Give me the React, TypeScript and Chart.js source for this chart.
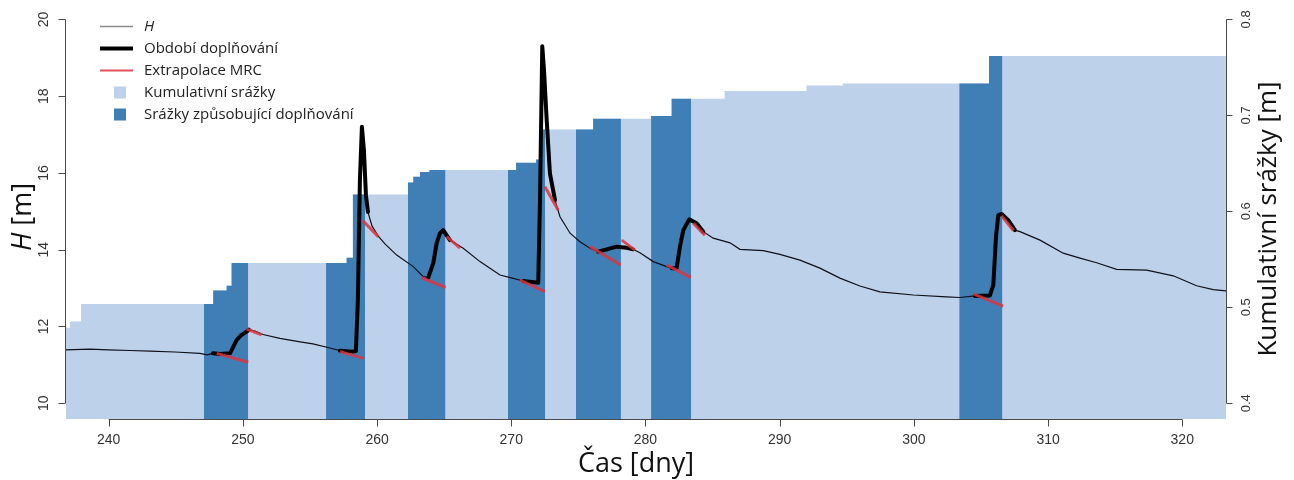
import React, { useEffect, useRef } from 'react';
import { Chart, registerables } from 'chart.js';

Chart.register(...registerables);

// ---- Data ----
const hDays = [236.82, 238.61, 239.95, 241.59, 243.08, 244.94, 246.8, 247.33, 247.77, 248.3, 249.04, 249.28, 249.54, 249.91, 250.28, 250.45, 250.9, 251.5, 252.76, 254.26, 255.22, 256.49, 257.23, 258.2, 258.42, 258.57, 258.72, 258.87, 259.02, 259.17, 259.32, 259.62, 260.07, 260.59, 261.46, 262.7, 263.44, 263.82, 264.19, 264.44, 264.69, 264.93, 265.43, 266.42, 267.67, 268.41, 269.16, 270.15, 270.89, 272.01, 272.14, 272.31, 272.44, 272.64, 272.88, 273.26, 273.63, 274.38, 275.12, 275.87, 276.48, 277.11, 277.85, 278.6, 279.07, 279.59, 280.58, 281.58, 281.95, 282.32, 282.57, 282.82, 283.26, 283.81, 284.31, 285.05, 286.3, 287.04, 288.78, 290.02, 291.51, 293.0, 294.49, 295.98, 297.47, 299.96, 302.44, 303.43, 304.55, 305.67, 305.92, 306.12, 306.29, 306.54, 307.03, 307.53, 307.91, 309.4, 311.13, 312.38, 313.62, 315.11, 317.35, 319.33, 321.07, 322.31, 323.26];
const hValues = [11.39, 11.41, 11.39, 11.375, 11.36, 11.335, 11.3, 11.26, 11.3, 11.285, 11.3, 11.47, 11.65, 11.78, 11.865, 11.92, 11.88, 11.79, 11.69, 11.6, 11.545, 11.44, 11.37, 11.345, 11.36, 12.69, 15.8, 17.2, 16.6, 15.42, 14.98, 14.62, 14.36, 14.15, 13.86, 13.56, 13.3, 13.28, 13.65, 14.17, 14.43, 14.51, 14.25, 14.04, 13.69, 13.52, 13.34, 13.255, 13.185, 13.14, 15.29, 19.3, 18.68, 17.38, 15.99, 15.29, 14.86, 14.43, 14.21, 14.04, 13.95, 14.01, 14.08, 14.05, 14.01, 13.92, 13.69, 13.56, 13.52, 13.515, 14.08, 14.51, 14.79, 14.69, 14.47, 14.3, 14.18, 14.01, 13.975, 13.88, 13.73, 13.52, 13.26, 13.055, 12.9, 12.82, 12.77, 12.755, 12.795, 12.81, 13.08, 14.34, 14.9, 14.93, 14.77, 14.51, 14.47, 14.25, 13.91, 13.78, 13.66, 13.49, 13.47, 13.32, 13.06, 12.96, 12.93];

// recharge periods (thick line)
const rechargeStart = [247.7, 257.2, 263.8, 270.85, 276.45, 281.9, 304.5];
const rechargeEnd = [250.5, 259.4, 265.45, 273.3, 279.1, 284.35, 307.55];

// MRC extrapolation segments
const mrcX0 = [248.05, 250.28, 257.24, 258.95, 263.32, 265.19, 270.65, 272.51, 275.88, 278.23, 281.59, 283.56, 304.43, 306.54];
const mrcY0 = [11.3, 11.93, 11.345, 14.75, 13.27, 14.34, 13.21, 15.64, 14.08, 14.25, 13.6, 14.69, 12.85, 14.88];
const mrcX1 = [250.4, 251.4, 259.02, 260.09, 265.11, 266.18, 272.51, 273.5, 278.15, 279.22, 283.39, 284.43, 306.66, 307.41];
const mrcY1 = [11.07, 11.78, 11.17, 14.34, 13.02, 14.04, 12.91, 15.03, 13.6, 13.99, 13.28, 14.38, 12.53, 14.5];

// cumulative rainfall (step starts)
const rainDays = [236.82, 237.12, 237.94, 247.79, 248.79, 249.16, 257.73, 258.2, 262.3, 262.7, 263.2, 263.9, 270.36, 271.85, 272.1, 276.1, 280.42, 281.95, 285.9, 292.0, 294.7, 305.6, 323.26];
const rainValues = [0.4786, 0.4852, 0.5033, 0.5175, 0.5224, 0.5461, 0.5517, 0.6174, 0.63, 0.636, 0.641, 0.643, 0.6505, 0.654, 0.6853, 0.6965, 0.6992, 0.7173, 0.7253, 0.7312, 0.7333, 0.7618, 0.7618];

// rain causing recharge (dark bands)
const bandStart = [247.1, 256.2, 262.3, 269.75, 274.82, 280.42, 303.38];
const bandEnd = [250.4, 259.1, 265.1, 272.52, 278.17, 283.4, 306.6];

const xTicks = [240, 250, 260, 270, 280, 290, 300, 310, 320];
const hTicks = [10, 12, 14, 16, 18, 20];
const rainTicks = [0.4, 0.5, 0.6, 0.7, 0.8];
const rainTickLabels = ['0.4', '0.5', '0.6', '0.7', '0.8'];

// ---- Styles ----
const LIGHT = '#bed1ea';
const DARK = '#3f7fb6';
const RED = 'rgba(222,52,62,0.85)';
const TICK_FONT = '"Liberation Sans", Arial, sans-serif';
const TEXT_FONT = '"Open Sans", "Noto Sans", sans-serif';

function rainAt(d: number) {
  let v = rainValues[0];
  for (let i = 0; i < rainDays.length; i++) if (rainDays[i] <= d) v = rainValues[i];
  return v;
}

function buildDatasets() {
  const ds: any[] = [];
  // red MRC segments
  for (let i = 0; i < mrcX0.length; i++) {
    ds.push({
      data: [{ x: mrcX0[i], y: mrcY0[i] }, { x: mrcX1[i], y: mrcY1[i] }],
      borderColor: RED, borderWidth: 3, yAxisID: 'y', order: 0, borderCapStyle: 'butt',
    });
  }
  // thick recharge lines
  for (let i = 0; i < rechargeStart.length; i++) {
    const pts: any[] = [];
    hDays.forEach((d, j) => {
      if (d >= rechargeStart[i] && d <= rechargeEnd[i]) pts.push({ x: d, y: hValues[j] });
    });
    ds.push({ data: pts, borderColor: '#000', borderWidth: 4, yAxisID: 'y', order: 1, borderJoinStyle: 'round', borderCapStyle: 'round' });
  }
  // thin H line
  ds.push({
    data: hDays.map((d, i) => ({ x: d, y: hValues[i] })),
    borderColor: '#101018', borderWidth: 1.2, yAxisID: 'y', order: 2,
  });
  // dark bands
  for (let i = 0; i < bandStart.length; i++) {
    const pts: any[] = [{ x: bandStart[i], y: rainAt(bandStart[i]) }];
    rainDays.forEach((d, j) => {
      if (d > bandStart[i] && d < bandEnd[i]) pts.push({ x: d, y: rainValues[j] });
    });
    pts.push({ x: bandEnd[i], y: rainAt(bandEnd[i]) });
    ds.push({
      data: pts, stepped: true, fill: 'start', backgroundColor: DARK,
      borderColor: 'transparent', borderWidth: 0, yAxisID: 'y2', order: 3,
    });
  }
  // light cumulative rain
  ds.push({
    data: rainDays.map((d, i) => ({ x: d, y: rainValues[i] })),
    stepped: true, fill: 'start', backgroundColor: LIGHT,
    borderColor: 'transparent', borderWidth: 0, yAxisID: 'y2', order: 4,
  });
  return ds;
}

const decor = {
  id: 'decor',
  beforeDraw(chart: any) {
    const { ctx } = chart;
    ctx.save();
    ctx.fillStyle = '#fff';
    ctx.fillRect(0, 0, chart.width, chart.height);
    ctx.restore();
  },
  afterDraw(chart: any) {
    const { ctx, chartArea } = chart;
    const xs = chart.scales.x, ys = chart.scales.y, y2s = chart.scales.y2;
    ctx.save();
    ctx.strokeStyle = '#4a4a4a';
    ctx.lineWidth = 1;
    ctx.fillStyle = '#333';

    // bottom axis
    const by = chartArea.bottom + 0.5;
    ctx.beginPath();
    ctx.moveTo(xs.getPixelForValue(xTicks[0]), by);
    ctx.lineTo(xs.getPixelForValue(xTicks[xTicks.length - 1]), by);
    xTicks.forEach((t) => {
      const px = Math.round(xs.getPixelForValue(t)) + 0.5;
      ctx.moveTo(px, by);
      ctx.lineTo(px, by + 7);
    });
    ctx.stroke();
    ctx.font = `14px ${TICK_FONT}`;
    ctx.textAlign = 'center';
    ctx.textBaseline = 'middle';
    xTicks.forEach((t) => ctx.fillText(String(t), xs.getPixelForValue(t), 440));

    // left axis
    const lx = chartArea.left - 0.5;
    ctx.beginPath();
    ctx.moveTo(lx, ys.getPixelForValue(hTicks[0]));
    ctx.lineTo(lx, ys.getPixelForValue(hTicks[hTicks.length - 1]));
    hTicks.forEach((t) => {
      const py = Math.round(ys.getPixelForValue(t)) + 0.5;
      ctx.moveTo(lx, py);
      ctx.lineTo(lx - 7, py);
    });
    ctx.stroke();
    hTicks.forEach((t) => {
      ctx.save();
      ctx.translate(44, ys.getPixelForValue(t));
      ctx.rotate(-Math.PI / 2);
      ctx.fillText(String(t), 0, 0);
      ctx.restore();
    });

    // right axis
    const rx = chartArea.right + 0.5;
    ctx.beginPath();
    ctx.moveTo(rx, y2s.getPixelForValue(rainTicks[0]));
    ctx.lineTo(rx, y2s.getPixelForValue(rainTicks[rainTicks.length - 1]));
    rainTicks.forEach((t) => {
      const py = Math.round(y2s.getPixelForValue(t)) + 0.5;
      ctx.moveTo(rx, py);
      ctx.lineTo(rx + 6, py);
    });
    ctx.stroke();
    ctx.font = `13px ${TICK_FONT}`;
    rainTicks.forEach((t, i) => {
      ctx.save();
      ctx.translate(1246, y2s.getPixelForValue(t));
      ctx.rotate(-Math.PI / 2);
      ctx.fillText(rainTickLabels[i], 0, 0);
      ctx.restore();
    });

    // axis titles
    ctx.fillStyle = '#111';
    // left: H [m]
    ctx.save();
    ctx.translate(23, 217);
    ctx.rotate(-Math.PI / 2);
    ctx.textAlign = 'left';
    const fItal = `italic 27px ${TEXT_FONT}`;
    const fNorm = `27px ${TEXT_FONT}`;
    ctx.font = fItal;
    const wH = ctx.measureText('H').width;
    ctx.font = fNorm;
    const wRest = ctx.measureText(' [m]').width;
    const startX = -(wH + wRest) / 2;
    ctx.font = fItal;
    ctx.fillText('H', startX, 0);
    ctx.font = fNorm;
    ctx.fillText(' [m]', startX + wH, 0);
    ctx.restore();

    // right title
    ctx.save();
    ctx.translate(1269, 219);
    ctx.rotate(-Math.PI / 2);
    ctx.textAlign = 'center';
    ctx.font = `26px ${TEXT_FONT}`;
    ctx.fillText('Kumulativní srážky [m]', 0, 0);
    ctx.restore();

    // bottom title
    ctx.textAlign = 'center';
    ctx.textBaseline = 'alphabetic';
    ctx.font = `27px ${TEXT_FONT}`;
    ctx.fillText('Čas [dny]', 636, 472);

    // legend
    const rows = [26.5, 48.5, 70.5, 92.5, 114.5];
    const tx = 144;
    ctx.textAlign = 'left';
    ctx.textBaseline = 'middle';
    ctx.lineCap = 'butt';
    ctx.strokeStyle = '#8a8a8a';
    ctx.lineWidth = 1.6;
    ctx.beginPath(); ctx.moveTo(100, rows[0]); ctx.lineTo(133, rows[0]); ctx.stroke();
    ctx.strokeStyle = '#000';
    ctx.lineWidth = 4;
    ctx.beginPath(); ctx.moveTo(100, rows[1]); ctx.lineTo(133, rows[1]); ctx.stroke();
    ctx.strokeStyle = RED;
    ctx.lineWidth = 2.2;
    ctx.beginPath(); ctx.moveTo(100, rows[2]); ctx.lineTo(133, rows[2]); ctx.stroke();
    ctx.fillStyle = LIGHT;
    ctx.fillRect(114, rows[3] - 6, 12, 12);
    ctx.fillStyle = DARK;
    ctx.fillRect(114, rows[4] - 6, 12, 12);
    ctx.fillStyle = '#222';
    ctx.font = `italic 15px ${TEXT_FONT}`;
    ctx.fillText('H', tx, rows[0]);
    ctx.font = `15px ${TEXT_FONT}`;
    ctx.fillText('Období doplňování', tx, rows[1]);
    ctx.fillText('Extrapolace MRC', tx, rows[2]);
    ctx.fillText('Kumulativní srážky', tx, rows[3]);
    ctx.fillText('Srážky způsobující doplňování', tx, rows[4]);
    ctx.restore();
  },
};

export default function App() {
  const ref = useRef<HTMLCanvasElement>(null);
  useEffect(() => {
    if (!ref.current) return;
    const chart = new Chart(ref.current, {
      type: 'line',
      data: { datasets: buildDatasets() },
      options: {
        responsive: false,
        animation: false,
        devicePixelRatio: 1,
        events: [],
        layout: { padding: { left: 66, right: 68, top: 19, bottom: 61 } },
        elements: { point: { radius: 0 }, line: { tension: 0 } },
        plugins: { legend: { display: false }, tooltip: { enabled: false } },
        scales: {
          x: { type: 'linear', min: 236.82, max: 323.26, display: false },
          y: { type: 'linear', min: 9.59, max: 20.01, display: false },
          y2: { type: 'linear', min: 0.3836, max: 0.8004, display: false },
        },
      } as any,
      plugins: [decor],
    });
    return () => chart.destroy();
  }, []);
  return (
    <div style={{ position: 'absolute', left: 0, top: 0, width: 1294, height: 480, background: '#fff' }}>
      <canvas ref={ref} width={1294} height={480} style={{ display: 'block', width: 1294, height: 480 }} />
    </div>
  );
}
